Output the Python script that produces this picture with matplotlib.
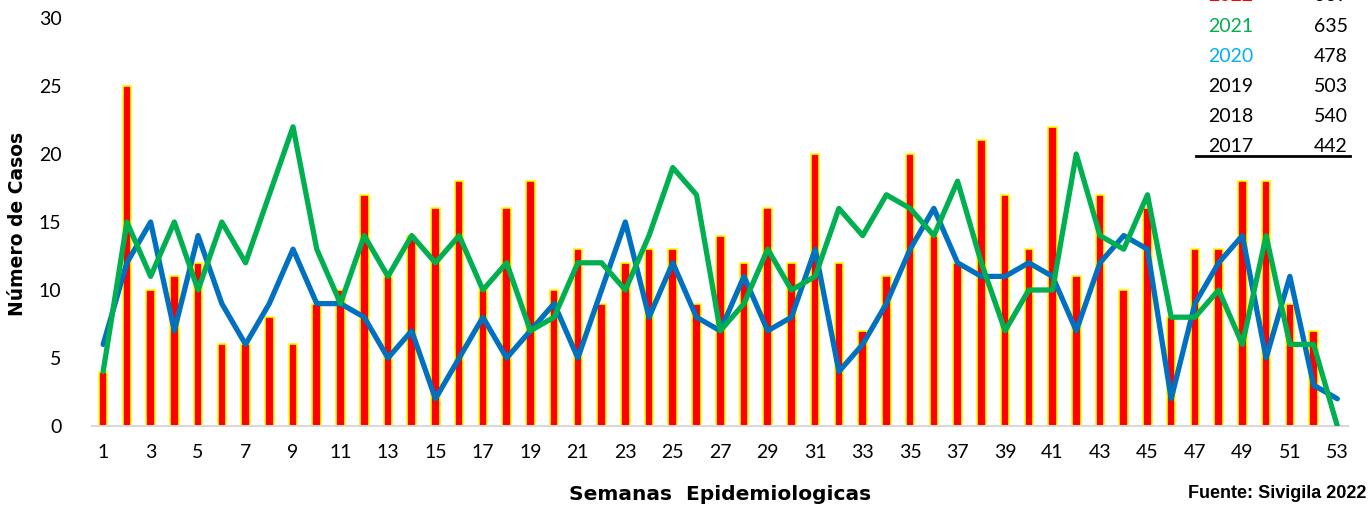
import matplotlib
matplotlib.use("Agg")
import matplotlib.pyplot as plt
import numpy as np

weeks = np.arange(1, 54)

cases_2022 = [4, 25, 10, 11, 12, 6, 6, 8, 6, 9, 10, 17, 11, 14, 16, 18, 10, 16,
              18, 10, 13, 9, 12, 13, 13, 9, 14, 12, 16, 12, 20, 12, 7, 11, 20,
              14, 12, 21, 17, 13, 22, 11, 17, 10, 16, 8, 13, 13, 18, 18, 9, 7, 0]
cases_2021 = [4, 15, 11, 15, 10, 15, 12, 17, 22, 13, 9, 14, 11, 14, 12, 14, 10,
              12, 7, 8, 12, 12, 10, 14, 19, 17, 7, 9, 13, 10, 11, 16, 14, 17, 16,
              14, 18, 12, 7, 10, 10, 20, 14, 13, 17, 8, 8, 10, 6, 14, 6, 6, 0]
cases_2020 = [6, 12, 15, 7, 14, 9, 6, 9, 13, 9, 9, 8, 5, 7, 2, 5, 8, 5, 7, 9, 5,
              10, 15, 8, 12, 8, 7, 11, 7, 8, 13, 4, 6, 9, 13, 16, 12, 11, 11, 12,
              11, 7, 12, 14, 13, 2, 9, 12, 14, 5, 11, 3, 2]

table_years = ["2022", "2021", "2020", "2019", "2018", "2017"]
table_totals = ["669", "635", "478", "503", "540", "442"]
table_colors = ["#FF0000", "#00B050", "#00B0F0", "black", "black", "black"]

fig = plt.figure(figsize=(13.69, 5.11), dpi=100)
ax = fig.add_axes([92 / 1369, 85 / 511, 1256 / 1369, 408 / 511])

ax.bar(weeks, cases_2022, width=0.36, color="#FF0000", edgecolor="#FFFF00",
       linewidth=1.2, zorder=2)
ax.plot(weeks, cases_2020, color="#0070C0", lw=3.8, solid_joinstyle="round",
        solid_capstyle="round", zorder=3)
ax.plot(weeks, cases_2021, color="#00B050", lw=3.8, solid_joinstyle="round",
        solid_capstyle="round", zorder=4)

ax.set_xlim(0.53, 53.45)
ax.set_ylim(0, 30)
ax.set_xticks(np.arange(1, 54, 2))
ax.set_yticks(np.arange(0, 31, 5))
ax.tick_params(length=0, labelsize=14)
ax.tick_params(axis="y", pad=22)
ax.tick_params(axis="x", pad=13)
for lab in ax.get_xticklabels() + ax.get_yticklabels():
    lab.set_family("Lato")

for s in ["top", "right", "left"]:
    ax.spines[s].set_visible(False)
ax.spines["bottom"].set_color("#D9D9D9")
ax.spines["bottom"].set_linewidth(1.5)

fig.text(18 / 1369, 1 - 224 / 511, "Número de Casos", rotation=90, ha="center",
         va="center", fontsize=13.5, fontweight="bold", family="DejaVu Sans")
fig.text(720 / 1369, 1 - 494 / 511, "Semanas  Epidemiologicas", ha="center",
         va="center", fontsize=14.5, fontweight="bold", family="DejaVu Sans")
fig.text(1366 / 1369, 1 - 494 / 511, "Fuente: Sivigila 2022", ha="right",
         va="center", fontsize=13, fontweight="bold", family="Liberation Sans")

# tabla de totales (arriba a la derecha)
for i, (yr, tot, col) in enumerate(zip(table_years, table_totals, table_colors)):
    ypix = -4 + 30 * i
    fig.text(1208 / 1369, 1 - ypix / 511, yr, color=col, ha="left",
             va="center", fontsize=14, family="Lato")
    fig.text(1348 / 1369, 1 - ypix / 511, tot, color="black", ha="right",
             va="center", fontsize=14, family="Lato")
fig.add_artist(plt.Line2D([1196 / 1369, 1350 / 1369], [1 - 156 / 511, 1 - 156 / 511],
                          color="black", lw=2))

fig.savefig("out.png", dpi=100)
